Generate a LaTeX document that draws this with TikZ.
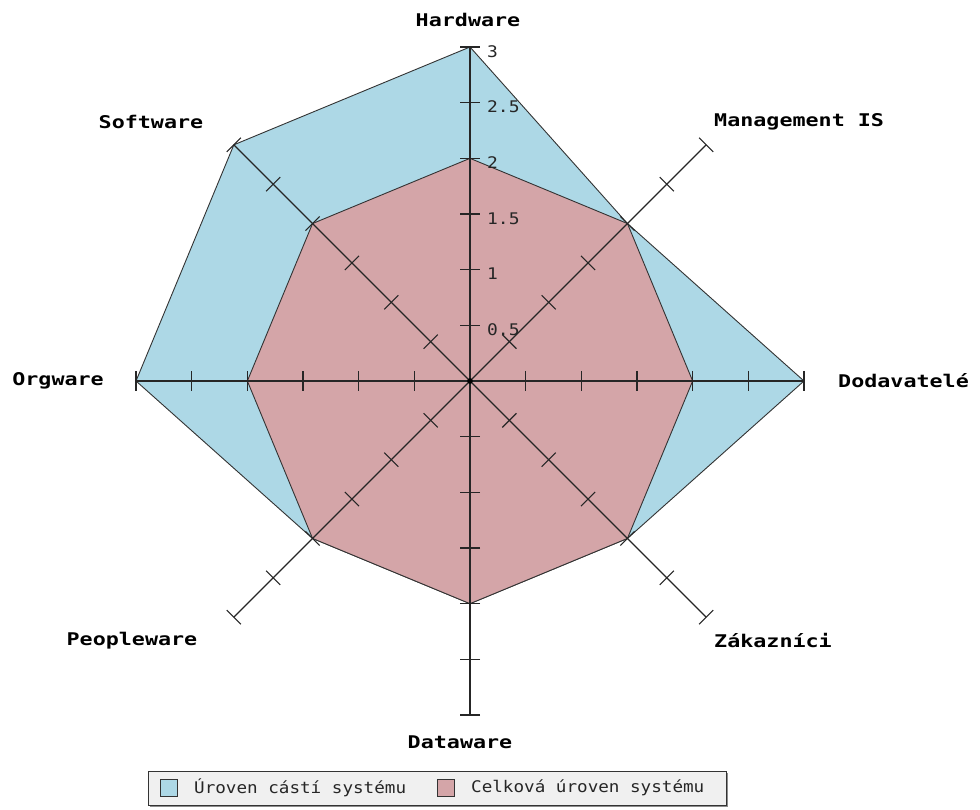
\documentclass[tikz,border=0pt]{standalone}
\usepackage{fontspec}
\setmonofont{DejaVu Sans Mono}
\usetikzlibrary{calc}
\definecolor{partfill}{RGB}{173,216,230}
\definecolor{totalfill}{RGB}{212,165,168}
\definecolor{legendbg}{RGB}{240,240,240}
\newcommand{\axisname}[1]{\scalebox{1.24}[1]{\fontsize{17.5}{18}\selectfont\ttfamily\bfseries #1}}
\newcommand{\ticktext}[1]{\scalebox{1.12}[1]{\fontsize{16}{17}\selectfont\ttfamily #1}}
\newcommand{\legendtext}[1]{\scalebox{1.1}[1]{\fontsize{16}{17}\selectfont\ttfamily #1}}
\begin{document}
\begin{tikzpicture}[x=1pt,y=1pt,
  series/.style={draw=black!80,line width=0.9pt,line join=miter},
  axisline/.style={draw=black!85,line width=1.3pt},
  tickmark/.style={draw=black!85,line width=1.1pt},
  axislabel/.style={inner sep=0pt,text=black},
  ticklabel/.style={inner sep=0pt,anchor=west,text=black!85},
  keybox/.style={draw=black!80,line width=1pt,minimum width=17pt,minimum height=17pt,inner sep=0pt},
  keytext/.style={inner sep=0pt,anchor=west,text=black!85}]
\useasboundingbox (0,0) rectangle (980,809);
\def\U{111.33}
\coordinate (C) at (470,428);

% data points of both series (Hardware first, then clockwise)
\foreach \ang/\val [count=\i] in {90/3,45/2,0/3,-45/2,-90/2,-135/2,180/3,135/3}
  \coordinate (p\i) at ($(C)+(\ang:{\val*\U})$);
\foreach \ang [count=\i] in {90,45,0,-45,-90,-135,180,135}
  \coordinate (q\i) at ($(C)+(\ang:{2*\U})$);

\path[series,fill=partfill] (p1)--(p2)--(p3)--(p4)--(p5)--(p6)--(p7)--(p8)--cycle;
\path[series,fill=totalfill] (q1)--(q2)--(q3)--(q4)--(q5)--(q6)--(q7)--(q8)--cycle;

% axes with tick marks every 0.5
\foreach \ang [count=\i] in {90,45,0,-45,-90,-135,180,135} {
  \coordinate (e\i) at ($(C)+(\ang:{3*\U})$);
  \draw[axisline] (C) -- (e\i);
  \foreach \k in {1,...,6}
    \draw[tickmark] ($(C)+(\ang:{\k*\U/2})+(\ang+90:10)$) -- ($(C)+(\ang:{\k*\U/2})+(\ang-90:10)$);
}
\fill[black] (C) circle (2.8);

% scale labels on the vertical axis
\foreach \t [count=\k] in {0.5,1,1.5,2,2.5,3}
  \node[ticklabel] (t\k) at ($(C)+(0,{\k*\U/2})+(17,-4.5)$) {\ticktext{\t}};

% axis names
\node[axislabel] (hw) at (468,789) {\axisname{Hardware}};
\node[axislabel,anchor=west] (mis) at (714,687) {\axisname{Management IS}};
\node[axislabel,anchor=west] (dod) at (838,428) {\axisname{Dodavatelé}};
\node[axislabel,anchor=west] (zak) at (714,168) {\axisname{Zákazníci}};
\node[axislabel] (dw) at (460,67) {\axisname{Dataware}};
\node[axislabel] (pw) at (132,168) {\axisname{Peopleware}};
\node[axislabel,anchor=east] (ow) at (104,428) {\axisname{Orgware}};
\node[axislabel] (sw) at (151,687) {\axisname{Software}};

% legend
\fill[black!45] (150,2) rectangle (728,36);
\path[draw=black!80,line width=1pt,fill=legendbg] (148,4) rectangle (726,38);
\node[keybox,fill=partfill] (k1) at (169,21) {};
\node[keytext] (l1) at (194,21) {\legendtext{Úroven cástí systému}};
\node[keybox,fill=totalfill] (k2) at (446,21) {};
\node[keytext] (l2) at (471,21) {\legendtext{Celková úroven systému}};
\end{tikzpicture}
\end{document}
